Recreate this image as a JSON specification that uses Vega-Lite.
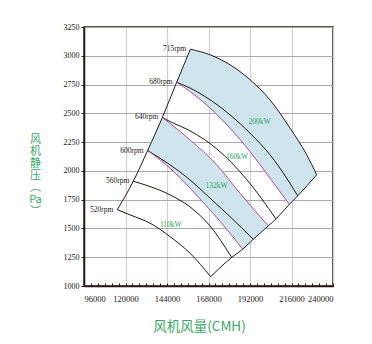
{
  "$schema": "https://vega.github.io/schema/vega-lite/v6.json",
  "autosize": {"type": "none"},
  "width": 249,
  "height": 259,
  "padding": {"left": 84, "top": 27, "right": 39, "bottom": 58},
  "background": "white",
  "config": {
    "view": {"stroke": "#231815", "strokeWidth": 1.5}
  },
  "datasets": {
    "bands": [
      {"band": "upper", "i": 0, "x": 157500, "y": 3057},
      {"band": "upper", "i": 1, "x": 168870, "y": 3009},
      {"band": "upper", "i": 2, "x": 180430, "y": 2922},
      {"band": "upper", "i": 3, "x": 192000, "y": 2792},
      {"band": "upper", "i": 4, "x": 203560, "y": 2617},
      {"band": "upper", "i": 5, "x": 215130, "y": 2372},
      {"band": "upper", "i": 6, "x": 224790, "y": 2140},
      {"band": "upper", "i": 7, "x": 230570, "y": 1966},
      {"band": "upper", "i": 8, "x": 219580, "y": 1783},
      {"band": "upper", "i": 9, "x": 214730, "y": 1709},
      {"band": "upper", "i": 10, "x": 203560, "y": 1937},
      {"band": "upper", "i": 11, "x": 192000, "y": 2168},
      {"band": "upper", "i": 12, "x": 180430, "y": 2372},
      {"band": "upper", "i": 13, "x": 168870, "y": 2546},
      {"band": "upper", "i": 14, "x": 157300, "y": 2690},
      {"band": "upper", "i": 15, "x": 149600, "y": 2770},
      {"band": "lower", "i": 0, "x": 141300, "y": 2464},
      {"band": "lower", "i": 1, "x": 157300, "y": 2270},
      {"band": "lower", "i": 2, "x": 172740, "y": 2053},
      {"band": "lower", "i": 3, "x": 186200, "y": 1806},
      {"band": "lower", "i": 4, "x": 202580, "y": 1522},
      {"band": "lower", "i": 5, "x": 193900, "y": 1406},
      {"band": "lower", "i": 6, "x": 187720, "y": 1319},
      {"band": "lower", "i": 7, "x": 180430, "y": 1459},
      {"band": "lower", "i": 8, "x": 168870, "y": 1661},
      {"band": "lower", "i": 9, "x": 157300, "y": 1850},
      {"band": "lower", "i": 10, "x": 145730, "y": 2024},
      {"band": "lower", "i": 11, "x": 132800, "y": 2177}
    ],
    "curves": [
      {"curve": "r715", "kind": "rpm", "i": 0, "x": 157500, "y": 3057},
      {"curve": "r715", "kind": "rpm", "i": 1, "x": 168870, "y": 3009},
      {"curve": "r715", "kind": "rpm", "i": 2, "x": 180430, "y": 2922},
      {"curve": "r715", "kind": "rpm", "i": 3, "x": 192000, "y": 2792},
      {"curve": "r715", "kind": "rpm", "i": 4, "x": 203560, "y": 2617},
      {"curve": "r715", "kind": "rpm", "i": 5, "x": 215130, "y": 2372},
      {"curve": "r715", "kind": "rpm", "i": 6, "x": 224790, "y": 2140},
      {"curve": "r715", "kind": "rpm", "i": 7, "x": 230570, "y": 1966},
      {"curve": "r680", "kind": "rpm", "i": 0, "x": 149600, "y": 2770},
      {"curve": "r680", "kind": "rpm", "i": 1, "x": 157300, "y": 2720},
      {"curve": "r680", "kind": "rpm", "i": 2, "x": 168870, "y": 2618},
      {"curve": "r680", "kind": "rpm", "i": 3, "x": 180430, "y": 2487},
      {"curve": "r680", "kind": "rpm", "i": 4, "x": 192000, "y": 2328},
      {"curve": "r680", "kind": "rpm", "i": 5, "x": 203560, "y": 2140},
      {"curve": "r680", "kind": "rpm", "i": 6, "x": 213220, "y": 1937},
      {"curve": "r680", "kind": "rpm", "i": 7, "x": 219580, "y": 1783},
      {"curve": "m680", "kind": "power", "i": 0, "x": 149600, "y": 2770},
      {"curve": "m680", "kind": "power", "i": 1, "x": 157300, "y": 2690},
      {"curve": "m680", "kind": "power", "i": 2, "x": 168870, "y": 2546},
      {"curve": "m680", "kind": "power", "i": 3, "x": 180430, "y": 2372},
      {"curve": "m680", "kind": "power", "i": 4, "x": 192000, "y": 2168},
      {"curve": "m680", "kind": "power", "i": 5, "x": 203560, "y": 1937},
      {"curve": "m680", "kind": "power", "i": 6, "x": 214730, "y": 1709},
      {"curve": "r640", "kind": "rpm", "i": 0, "x": 141300, "y": 2464},
      {"curve": "r640", "kind": "rpm", "i": 1, "x": 145730, "y": 2429},
      {"curve": "r640", "kind": "rpm", "i": 2, "x": 157300, "y": 2348},
      {"curve": "r640", "kind": "rpm", "i": 3, "x": 172740, "y": 2192},
      {"curve": "r640", "kind": "rpm", "i": 4, "x": 190260, "y": 1922},
      {"curve": "r640", "kind": "rpm", "i": 5, "x": 207030, "y": 1583},
      {"curve": "m640", "kind": "power", "i": 0, "x": 141300, "y": 2464},
      {"curve": "m640", "kind": "power", "i": 1, "x": 157300, "y": 2270},
      {"curve": "m640", "kind": "power", "i": 2, "x": 172740, "y": 2053},
      {"curve": "m640", "kind": "power", "i": 3, "x": 186200, "y": 1806},
      {"curve": "m640", "kind": "power", "i": 4, "x": 202580, "y": 1522},
      {"curve": "r600", "kind": "rpm", "i": 0, "x": 132800, "y": 2177},
      {"curve": "r600", "kind": "rpm", "i": 1, "x": 145730, "y": 2053},
      {"curve": "r600", "kind": "rpm", "i": 2, "x": 157300, "y": 1922},
      {"curve": "r600", "kind": "rpm", "i": 3, "x": 168870, "y": 1763},
      {"curve": "r600", "kind": "rpm", "i": 4, "x": 180430, "y": 1603},
      {"curve": "r600", "kind": "rpm", "i": 5, "x": 193900, "y": 1406},
      {"curve": "m600", "kind": "power", "i": 0, "x": 132800, "y": 2177},
      {"curve": "m600", "kind": "power", "i": 1, "x": 145730, "y": 2024},
      {"curve": "m600", "kind": "power", "i": 2, "x": 157300, "y": 1850},
      {"curve": "m600", "kind": "power", "i": 3, "x": 168870, "y": 1661},
      {"curve": "m600", "kind": "power", "i": 4, "x": 180430, "y": 1459},
      {"curve": "m600", "kind": "power", "i": 5, "x": 187720, "y": 1319},
      {"curve": "r560", "kind": "rpm", "i": 0, "x": 124500, "y": 1910},
      {"curve": "r560", "kind": "rpm", "i": 1, "x": 134170, "y": 1864},
      {"curve": "r560", "kind": "rpm", "i": 2, "x": 145730, "y": 1792},
      {"curve": "r560", "kind": "rpm", "i": 3, "x": 157300, "y": 1687},
      {"curve": "r560", "kind": "rpm", "i": 4, "x": 168870, "y": 1522},
      {"curve": "r560", "kind": "rpm", "i": 5, "x": 181400, "y": 1248},
      {"curve": "r520", "kind": "rpm", "i": 0, "x": 115260, "y": 1663},
      {"curve": "r520", "kind": "rpm", "i": 1, "x": 122600, "y": 1618},
      {"curve": "r520", "kind": "rpm", "i": 2, "x": 134170, "y": 1546},
      {"curve": "r520", "kind": "rpm", "i": 3, "x": 145730, "y": 1429},
      {"curve": "r520", "kind": "rpm", "i": 4, "x": 157300, "y": 1285},
      {"curve": "r520", "kind": "rpm", "i": 5, "x": 169270, "y": 1081},
      {"curve": "system", "kind": "rpm", "i": 0, "x": 115260, "y": 1663},
      {"curve": "system", "kind": "rpm", "i": 1, "x": 124500, "y": 1910},
      {"curve": "system", "kind": "rpm", "i": 2, "x": 132800, "y": 2177},
      {"curve": "system", "kind": "rpm", "i": 3, "x": 141300, "y": 2464},
      {"curve": "system", "kind": "rpm", "i": 4, "x": 149600, "y": 2770},
      {"curve": "system", "kind": "rpm", "i": 5, "x": 157500, "y": 3057},
      {"curve": "limit", "kind": "rpm", "i": 0, "x": 169270, "y": 1081},
      {"curve": "limit", "kind": "rpm", "i": 1, "x": 181400, "y": 1248},
      {"curve": "limit", "kind": "rpm", "i": 2, "x": 187720, "y": 1319},
      {"curve": "limit", "kind": "rpm", "i": 3, "x": 193900, "y": 1406},
      {"curve": "limit", "kind": "rpm", "i": 4, "x": 202580, "y": 1522},
      {"curve": "limit", "kind": "rpm", "i": 5, "x": 207030, "y": 1583},
      {"curve": "limit", "kind": "rpm", "i": 6, "x": 214730, "y": 1709},
      {"curve": "limit", "kind": "rpm", "i": 7, "x": 219580, "y": 1783},
      {"curve": "limit", "kind": "rpm", "i": 8, "x": 230570, "y": 1966}
    ],
    "rpmLabels": [
      {"label": "715rpm", "x": 157500, "y": 3057},
      {"label": "680rpm", "x": 149600, "y": 2770},
      {"label": "640rpm", "x": 141300, "y": 2464},
      {"label": "600rpm", "x": 132800, "y": 2177},
      {"label": "560rpm", "x": 124500, "y": 1910},
      {"label": "520rpm", "x": 115260, "y": 1663}
    ],
    "powerLabels": [
      {"label": "200kW", "x": 197500, "y": 2429},
      {"label": "160kW", "x": 184500, "y": 2120},
      {"label": "132kW", "x": 172700, "y": 1873},
      {"label": "110kW", "x": 146200, "y": 1531}
    ]
  },
  "encoding": {
    "x": {
      "field": "x",
      "type": "quantitative",
      "scale": {"domain": [96000, 240000], "nice": false, "zero": false},
      "axis": {
        "values": [96000, 100000, 104000, 108000, 112000, 116000, 120000, 124000, 128000, 132000, 136000, 140000, 144000, 148000, 152000, 156000, 160000, 164000, 168000, 172000, 176000, 180000, 184000, 188000, 192000, 196000, 200000, 204000, 208000, 212000, 216000, 220000, 224000, 228000, 232000, 236000, 240000],
        "format": "d",
        "labelExpr": "datum.value % 24000 === 0 ? datum.label : ''",
        "labelOverlap": false,
        "labelFont": "Liberation Serif",
        "labelFontSize": 8.5,
        "labelColor": "#231815",
        "labelPadding": 11,
        "tickSize": -3,
        "tickColor": "#231815",
        "tickWidth": 1,
        "domainColor": "#231815",
        "domainWidth": 1.5,
        "grid": true,
        "gridColor": "#cfcfcf",
        "gridWidth": 1.2,
        "gridOpacity": {"condition": {"test": "datum.value % 24000 === 0", "value": 1}, "value": 0},
        "title": "风机风量(CMH)",
        "titleFont": "Noto Sans CJK SC",
        "titleFontSize": 13.5,
        "titleFontWeight": "normal",
        "titleColor": "#35a862",
        "titleAlign": "center",
        "titleBaseline": "middle",
        "titleX": 115,
        "titleY": 40
      }
    },
    "y": {
      "field": "y",
      "type": "quantitative",
      "scale": {"domain": [1000, 3250], "nice": false, "zero": false},
      "axis": {
        "values": [1000, 1250, 1500, 1750, 2000, 2250, 2500, 2750, 3000, 3250],
        "format": "d",
        "labelFont": "Liberation Serif",
        "labelFontSize": 8,
        "labelColor": "#231815",
        "labelPadding": 2,
        "tickSize": 3,
        "tickColor": "#231815",
        "domainColor": "#231815",
        "domainWidth": 1.5,
        "grid": true,
        "gridColor": "#a8a8a8",
        "gridWidth": 1.2,
        "title": ["风", "机", "静", "压", "︵", "Pa", "︶"],
        "titleFont": "Noto Sans CJK SC",
        "titleFontSize": 11,
        "titleFontWeight": "normal",
        "titleColor": "#35a862",
        "titleLineHeight": 12,
        "titleAngle": 0,
        "titleAlign": "center",
        "titleBaseline": "middle",
        "titleX": -49,
        "titleY": 112
      }
    }
  },
  "layer": [
    {
      "data": {"name": "bands"},
      "mark": {"type": "line", "fill": "#cfe5ed", "stroke": null, "strokeWidth": 0},
      "encoding": {
        "detail": {"field": "band"},
        "order": {"field": "i", "type": "quantitative"}
      }
    },
    {
      "data": {"name": "curves"},
      "mark": {"type": "line", "interpolate": "monotone", "strokeWidth": 1},
      "encoding": {
        "detail": {"field": "curve"},
        "order": {"field": "i", "type": "quantitative"},
        "color": {
          "field": "kind",
          "type": "nominal",
          "scale": {"domain": ["rpm", "power"], "range": ["#231815", "#b8469b"]},
          "legend": null
        }
      }
    },
    {
      "data": {"name": "rpmLabels"},
      "mark": {"type": "text", "align": "right", "baseline": "middle", "dx": -4, "font": "Liberation Serif", "fontSize": 7.5, "color": "#231815"},
      "encoding": {
        "text": {"field": "label"}
      }
    },
    {
      "data": {"name": "powerLabels"},
      "mark": {"type": "text", "align": "center", "baseline": "middle", "font": "Liberation Serif", "fontSize": 7.5, "color": "#2e9e5b"},
      "encoding": {
        "text": {"field": "label"}
      }
    }
  ]
}
